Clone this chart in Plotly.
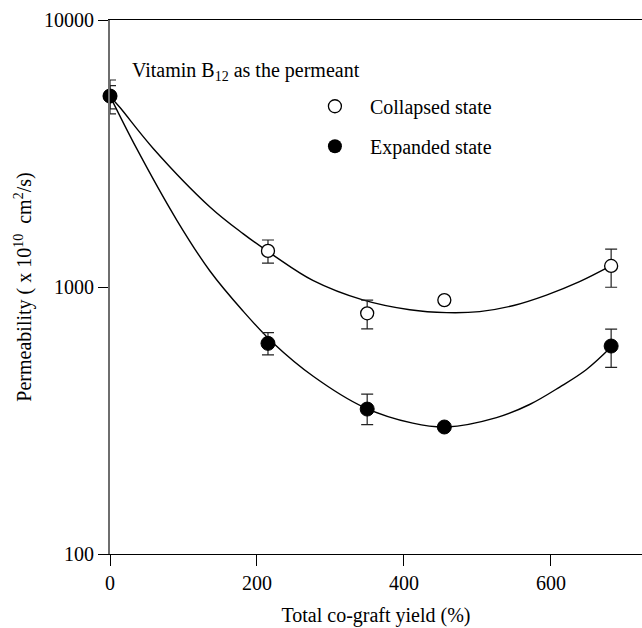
import plotly.graph_objects as go

# ---- data ----
yield_pct = [0, 215, 350, 455, 682]

collapsed = [5190, 1365, 797, 893, 1199]
collapsed_hi = [5960, 1500, 893, 893, 1387]
collapsed_lo = [4450, 1228, 697, 893, 998]

expanded = [5190, 615, 349, 299, 601]
expanded_hi = [5680, 675, 397, 299, 695]
expanded_lo = [4645, 557, 305, 299, 500]

fit_c_x = [0, 13.6, 58.5, 136, 181, 224.5, 276, 344, 408, 458, 503, 548, 594, 639, 682]
fit_c_y = [5188, 4699, 3311, 1995, 1585, 1303, 1059, 895, 822, 802, 809, 851, 933, 1047, 1202]

fit_e_x = [0, 36, 91, 136, 181, 222, 277, 345, 412, 458, 526, 571, 612, 648, 682]
fit_e_y = [5188, 3311, 1778, 1148, 813, 617, 462, 355, 309, 299, 324, 363, 422, 490, 596]

x_ticks = [0, 200, 400, 600]
y_ticks = [100, 1000, 10000]
y_tick_text = ["100", "1000", "10000"]

FONT = "Liberation Serif"

fig = go.Figure()

for fx, fy in ((fit_c_x, fit_c_y), (fit_e_x, fit_e_y)):
    fig.add_trace(go.Scatter(x=fx, y=fy, mode="lines", line=dict(color="black", width=1.4, shape="spline"),
                             showlegend=False, hoverinfo="skip", cliponaxis=False))

def err(center, hi, lo):
    return [h - c for h, c in zip(hi, center)], [c - l for c, l in zip(center, lo)]

cu, cm = err(collapsed, collapsed_hi, collapsed_lo)
eu, em = err(expanded, expanded_hi, expanded_lo)

fig.add_trace(go.Scatter(
    x=yield_pct, y=collapsed, mode="markers", showlegend=False, cliponaxis=False,
    marker=dict(symbol="circle", size=13, color="white", line=dict(color="black", width=1.3)),
    error_y=dict(type="data", symmetric=False, array=cu, arrayminus=cm, color="#222", thickness=1.2, width=6)))
fig.add_trace(go.Scatter(
    x=yield_pct, y=expanded, mode="markers", showlegend=False, cliponaxis=False,
    marker=dict(symbol="circle", size=14, color="black", line=dict(color="black", width=1)),
    error_y=dict(type="data", symmetric=False, array=eu, arrayminus=em, color="#222", thickness=1.2, width=6)))

# legend-only traces
fig.add_trace(go.Scatter(x=[None], y=[None], mode="markers", name="Collapsed state", legendgroup="a",
                         marker=dict(symbol="circle", size=13, color="white", line=dict(color="black", width=1.3))))
fig.add_trace(go.Scatter(x=[None], y=[None], mode="markers", name="Expanded state", legendgroup="b",
                         marker=dict(symbol="circle", size=14, color="black")))

fig.add_annotation(xref="paper", yref="paper", x=0.038, y=0.903, xanchor="left", yanchor="middle",
                   text="Vitamin B<sub>12</sub> as the permeant", showarrow=False,
                   font=dict(family=FONT, size=20, color="black"))

fig.update_layout(
    width=642, height=628,
    margin=dict(l=110, r=0, t=20, b=74),
    paper_bgcolor="white", plot_bgcolor="white",
    font=dict(family=FONT, size=20, color="black"),
    showlegend=True,
    legend=dict(x=0.357, y=0.875, xanchor="left", yanchor="top", bgcolor="rgba(0,0,0,0)",
                font=dict(family=FONT, size=20, color="black"), itemwidth=60, tracegroupgap=11),
    xaxis=dict(range=[0, 724], tickvals=x_ticks, ticks="outside", ticklen=11, tickcolor="black",
               showline=True, linecolor="black", linewidth=1.2, mirror=True, showgrid=False, zeroline=False,
               tickfont=dict(family=FONT, size=20, color="black"),
               title=dict(text="Total co-graft yield (%)", font=dict(family=FONT, size=20), standoff=14)),
    yaxis=dict(type="log", range=[2, 4], tickvals=y_ticks, ticktext=y_tick_text, ticks="outside", ticklen=10,
               tickcolor="black", showline=True, linecolor="#6e6e6e", linewidth=2, showgrid=False, zeroline=False,
               tickfont=dict(family=FONT, size=20, color="black"),
               title=dict(text="Permeability ( x 10<sup>10</sup>  cm<sup>2</sup>/s)", font=dict(family=FONT, size=20),
                          standoff=7)),
)

fig.write_html("out.html")
